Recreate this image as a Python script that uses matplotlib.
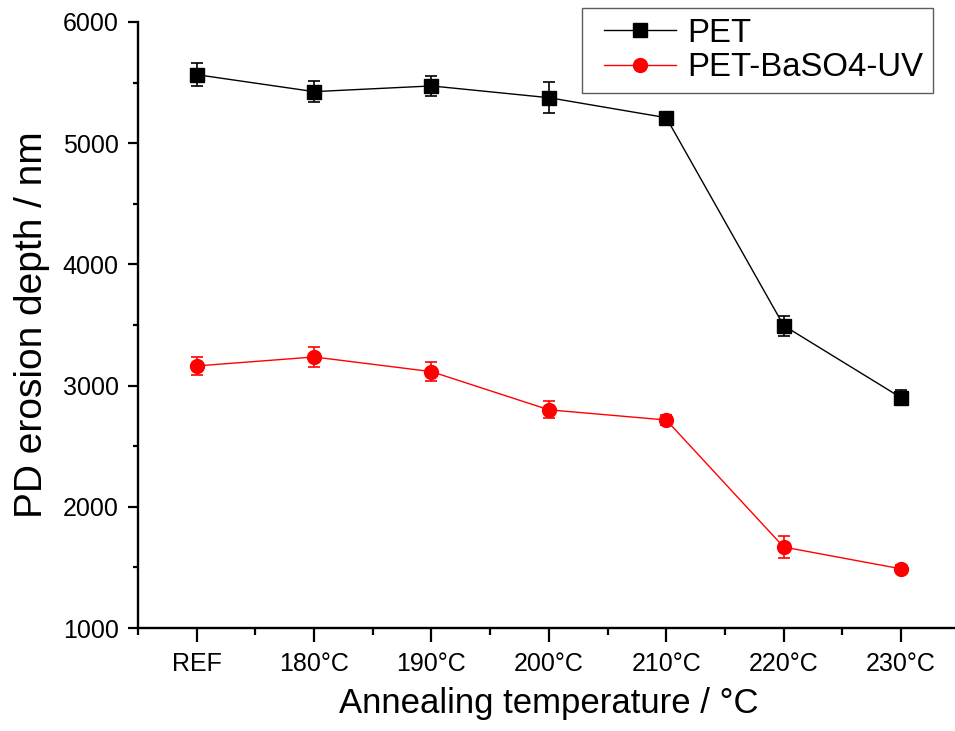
import matplotlib
matplotlib.use("Agg")
import matplotlib.pyplot as plt
from matplotlib.legend_handler import HandlerLine2D
from matplotlib.lines import Line2D
from matplotlib.ticker import MultipleLocator, FixedLocator

plt.rcParams["font.family"] = ["Liberation Sans", "DejaVu Sans"]

CATEGORIES = ["REF", "180°C", "190°C", "200°C", "210°C", "220°C", "230°C"]
PET = [5565, 5425, 5472, 5375, 5210, 3495, 2900]
PET_ERR = [93, 87, 80, 128, 20, 83, 60]
PET_BASO4 = [3162, 3236, 3115, 2800, 2716, 1668, 1488]
PET_BASO4_ERR = [74, 80, 80, 70, 40, 87, 30]


class PaddedLineHandler(HandlerLine2D):
    # leaves some blank space to the left of the legend line
    def create_artists(self, legend, orig_handle, xdescent, ydescent,
                       width, height, fontsize, trans):
        pad = 0.36 * fontsize
        return super().create_artists(legend, orig_handle, xdescent - pad, ydescent,
                                      width - pad, height, fontsize, trans)


fig = plt.figure(figsize=(9.55, 7.31), dpi=100)
ax = fig.add_axes([0.1445, 0.1409, 0.8605, 0.8291])

x = list(range(len(CATEGORIES)))
ax.errorbar(x, PET, yerr=PET_ERR, color="black", marker="s", markersize=10,
            linewidth=1.0, elinewidth=1.2, capsize=4.5, capthick=1.2, label="PET")
ax.errorbar(x, PET_BASO4, yerr=PET_BASO4_ERR, color="red", marker="o", markersize=10,
            linewidth=1.0, elinewidth=1.2, capsize=4.5, capthick=1.2, label="PET-BaSO4-UV")

ax.set_xlim(-0.5, 6.5)
ax.set_ylim(1000, 6000)
ax.set_xticks(x)
ax.set_xticklabels(CATEGORIES)
ax.xaxis.set_minor_locator(FixedLocator([i + 0.5 for i in range(-1, 7)]))
ax.yaxis.set_major_locator(MultipleLocator(1000))
ax.yaxis.set_minor_locator(MultipleLocator(500))

for side in ["top", "right"]:
    ax.spines[side].set_visible(False)
for side in ["left", "bottom"]:
    ax.spines[side].set_linewidth(1.7)

ax.tick_params(axis="x", which="major", length=10, width=1.6, labelsize=18, pad=7)
ax.tick_params(axis="x", which="minor", length=5, width=1.6)
ax.tick_params(axis="y", which="major", length=7, width=1.6, labelsize=18, pad=7)
ax.tick_params(axis="y", which="minor", length=3.6, width=1.6)

ax.set_xlabel("Annealing temperature / °C", fontsize=25, labelpad=8)
ax.set_ylabel("PD erosion depth / nm", fontsize=28, labelpad=9)

handles, labels = ax.get_legend_handles_labels()
handles = [h[0] for h in handles]
leg = fig.legend(handles, labels, loc="upper right", bbox_to_anchor=(0.977, 0.989),
                 fontsize=23.7, frameon=True, fancybox=False, edgecolor="#333333",
                 handlelength=2.55, handletextpad=0.35, labelspacing=0.1,
                 borderpad=0.3, borderaxespad=0.0,
                 handler_map={Line2D: PaddedLineHandler()})
leg.get_frame().set_linewidth(1.0)

fig.savefig("out.png", dpi=100, facecolor="white")
